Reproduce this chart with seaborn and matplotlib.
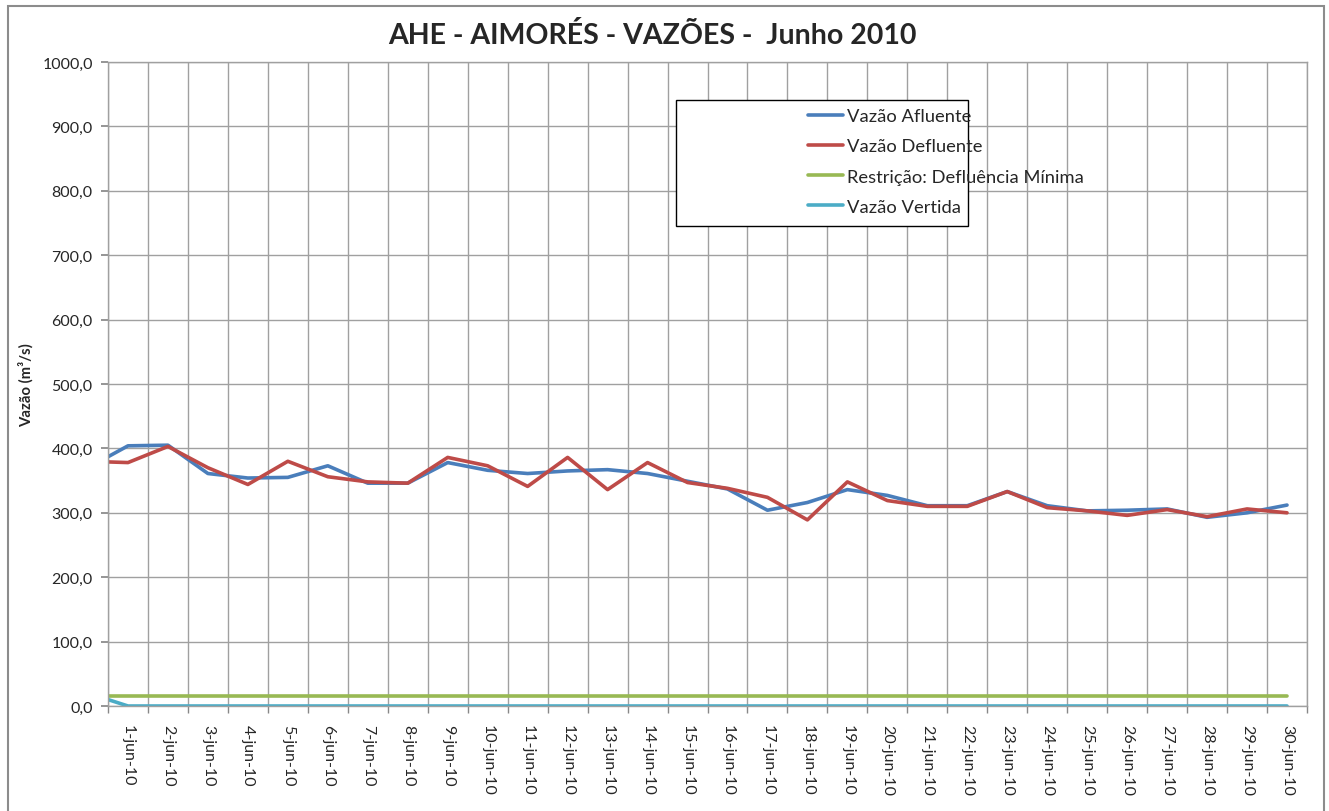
import matplotlib
matplotlib.use("Agg")
import matplotlib.pyplot as plt
import seaborn as sns
import pandas as pd
from matplotlib.patches import Rectangle

# ---- data ----
day_labels = [f"{d}-jun-10" for d in range(1, 31)]
# sample positions on the day axis (first sample sits at the axis start)
x_pos = [0.5] + list(range(1, 31))
afluente = [387, 404, 405, 361, 354, 355, 373, 346, 346, 378, 366,
            361, 365, 367, 361, 349, 337, 304, 316, 336, 327,
            311, 311, 333, 311, 303, 304, 306, 293, 300, 312]
defluente = [379, 378, 403, 370, 344, 380, 356, 348, 346, 386, 373,
             341, 386, 336, 378, 347, 338, 324, 289, 348, 319,
             310, 310, 333, 308, 303, 296, 305, 294, 306, 300]
restricao = [15] * 31
vertida = [10] + [0] * 30

series_names = ["Vazão Afluente", "Vazão Defluente",
                "Restrição: Defluência Mínima", "Vazão Vertida"]
series_vals = [afluente, defluente, restricao, vertida]
colors = ["#4a7ebb", "#be4b48", "#98b954", "#4bacc6"]

df = pd.concat([pd.DataFrame({"x": x_pos, "v": v, "s": n})
                for n, v in zip(series_names, series_vals)], ignore_index=True)

sns.set_theme(style="white")
plt.rcParams['font.family'] = ['Lato', 'DejaVu Sans']

fig = plt.figure(figsize=(13.29, 8.12), dpi=100)
W, H = 1329, 812
# chart-area border
fig.patches.append(Rectangle((8 / W, -0.05), (1324 - 8) / W, 1.05 - 7 / H,
                             transform=fig.transFigure, fill=False,
                             edgecolor="#8c8c8c", linewidth=1.5))
ax = fig.add_axes([108 / W, 1 - 707 / H, (1307 - 108) / W, (707 - 63) / H])

sns.lineplot(data=df, x="x", y="v", hue="s", palette=colors,
             hue_order=series_names, linewidth=2.6, ax=ax, legend=False,
             sort=False)

ax.set_xlim(0.5, 30.5)
ax.set_ylim(0, 1000)
ax.set_yticks(range(0, 1001, 100))
ax.set_yticklabels([f"{v},0" for v in range(0, 1001, 100)], fontsize=11.5)
ax.set_xticks(range(1, 31))
ax.set_xticklabels(day_labels, rotation=270, fontsize=11.5)
ax.set_xticks([i + 0.5 for i in range(0, 31)], minor=True)
ax.tick_params(axis="x", which="major", length=0, pad=13)
ax.tick_params(axis="x", which="minor", length=5, color="#888888", direction="out", bottom=True)
ax.tick_params(axis="y", length=5, color="#888888", direction="out", left=True, pad=6)
ax.grid(True, axis="y", color="#a0a0a0", linewidth=1)
ax.grid(True, axis="x", which="minor", color="#a0a0a0", linewidth=1)
ax.set_axisbelow(True)
for sp in ax.spines.values():
    sp.set_color("#a0a0a0")
    sp.set_linewidth(1)
ax.set_xlabel("")
ax.set_ylabel("Vazão (m³/s)", fontsize=10.7, fontweight="bold", labelpad=6)

fig.text(652 / W, 1 - 35 / H, "AHE - AIMORÉS - VAZÕES -  Junho 2010",
         ha="center", va="center", fontsize=20.5, fontweight="bold")

# legend box
lx0, lx1 = (676 - 108) / 1199, (968 - 108) / 1199
ly0, ly1 = (707 - 227) / 644, (707 - 101) / 644
ax.add_patch(Rectangle((lx0, ly0), lx1 - lx0, ly1 - ly0, transform=ax.transAxes,
                       facecolor="white", edgecolor="black", linewidth=1, zorder=5))
handles = [plt.Line2D([], [], color=c, linewidth=2.6) for c in colors]
leg = ax.legend(handles, series_names, loc="upper left",
                bbox_to_anchor=((808 - 108) / 1199, (707 - 109) / 644),
                frameon=False, fontsize=13.2, handlelength=1.9, handletextpad=0.25,
                labelspacing=0.78, borderpad=0, borderaxespad=0)
leg.set_zorder(6)

fig.savefig("out.png", dpi=100)
